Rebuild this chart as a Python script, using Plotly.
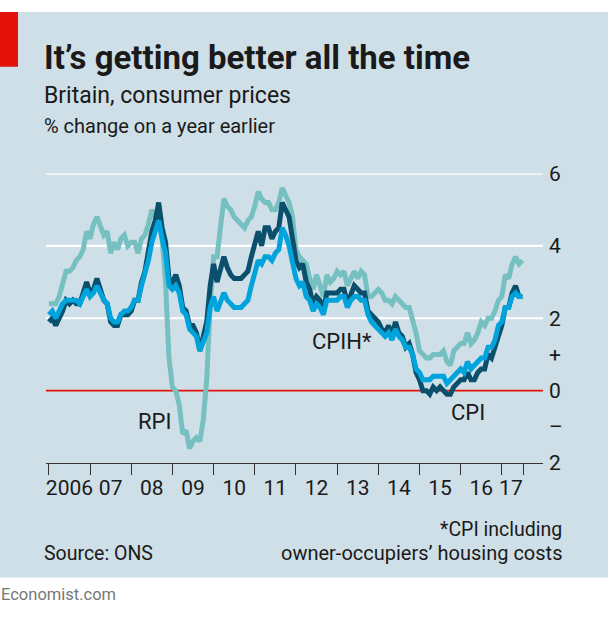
import plotly.graph_objects as go

# ---- data (monthly, Jan 2006 - Jul 2017), % change on a year earlier ----
start_year = 2006
cpi = [1.9,2.0,1.8,2.0,2.2,2.5,2.4,2.5,2.4,2.4,2.7,3.0,
       2.7,2.8,3.1,2.8,2.5,2.4,1.9,1.8,1.8,2.1,2.1,2.1,
       2.2,2.5,2.5,3.0,3.3,3.8,4.4,4.7,5.2,4.5,4.1,3.1,
       3.0,3.2,2.9,2.3,2.2,1.8,1.8,1.6,1.1,1.5,1.9,2.9,
       3.5,3.0,3.4,3.7,3.4,3.2,3.1,3.1,3.1,3.2,3.3,3.7,
       4.0,4.4,4.0,4.5,4.5,4.2,4.4,4.5,5.2,5.0,4.8,4.2,
       3.6,3.4,3.5,3.0,2.8,2.4,2.6,2.5,2.2,2.7,2.7,2.7,
       2.7,2.8,2.8,2.4,2.7,2.9,2.8,2.7,2.7,2.2,2.1,2.0,
       1.9,1.7,1.6,1.8,1.5,1.9,1.6,1.5,1.2,1.3,1.0,0.5,
       0.3,0.0,0.0,-0.1,0.1,0.0,0.1,0.0,-0.1,-0.1,0.1,0.2,
       0.3,0.3,0.5,0.3,0.3,0.5,0.6,0.6,1.0,0.9,1.2,1.6,
       1.8,2.3,2.3,2.7,2.9,2.6,2.6]
rpi = [2.4,2.4,2.4,2.6,3.0,3.3,3.3,3.4,3.6,3.7,3.9,4.4,
       4.2,4.6,4.8,4.5,4.3,4.4,3.8,4.1,3.9,4.2,4.3,4.0,
       4.1,4.1,3.8,4.2,4.3,4.6,5.0,4.8,5.0,4.2,3.0,0.9,
       0.1,0.0,-0.4,-1.2,-1.1,-1.6,-1.4,-1.3,-1.4,-0.8,0.3,2.4,
       3.7,3.7,4.4,5.3,5.1,5.0,4.8,4.7,4.6,4.5,4.7,4.8,
       5.1,5.5,5.3,5.2,5.2,5.0,5.0,5.2,5.6,5.4,5.2,4.8,
       3.9,3.7,3.6,3.5,3.1,2.8,3.2,2.9,2.6,3.2,3.0,3.1,
       3.3,3.2,3.3,2.9,3.1,3.3,3.1,3.3,3.2,2.6,2.6,2.7,
       2.8,2.7,2.5,2.5,2.4,2.6,2.5,2.4,2.3,2.3,2.0,1.6,
       1.1,1.0,0.9,0.9,1.0,1.0,1.0,1.1,0.8,0.7,1.1,1.2,
       1.3,1.3,1.6,1.3,1.4,1.6,1.9,1.8,2.0,2.0,2.2,2.5,
       2.6,3.2,3.1,3.5,3.7,3.5,3.6]
cpih = [2.1,2.2,2.0,2.2,2.4,2.5,2.5,2.5,2.5,2.4,2.6,2.8,
        2.6,2.7,2.9,2.7,2.5,2.4,2.0,1.9,1.9,2.1,2.2,2.2,
        2.3,2.5,2.5,2.9,3.2,3.6,4.1,4.4,4.7,4.2,3.8,2.9,
        2.8,2.9,2.7,2.2,2.1,1.7,1.6,1.5,1.1,1.4,1.6,2.3,
        2.6,2.2,2.5,2.7,2.5,2.4,2.3,2.3,2.3,2.4,2.5,2.9,
        3.3,3.6,3.5,3.7,3.7,3.6,3.8,3.9,4.5,4.3,4.0,3.6,
        3.1,2.9,3.0,2.6,2.5,2.2,2.4,2.3,2.1,2.5,2.5,2.5,
        2.5,2.6,2.6,2.3,2.5,2.6,2.6,2.5,2.5,2.1,1.9,1.8,
        1.7,1.6,1.5,1.6,1.4,1.7,1.5,1.4,1.2,1.2,1.0,0.6,
        0.5,0.3,0.3,0.3,0.4,0.4,0.4,0.4,0.2,0.3,0.4,0.5,
        0.6,0.5,0.8,0.6,0.7,0.8,0.9,0.9,1.2,1.2,1.4,1.8,
        1.9,2.3,2.3,2.6,2.7,2.6,2.6]

year_label_pos = [2006.5,2007.5,2008.5,2009.5,2010.5,2011.5,2012.5,2013.5,
                  2014.5,2015.5,2016.5,2017.22]
year_labels = ["2006","07","08","09","10","11","12","13","14","15","16","17"]
year_ticks = [2006,2007,2008,2009,2010,2011,2012,2013,2014,2015,2016,2017,2017.53]
y_tickvals = [6,4,2,1,0,-1,-2]
y_ticktext = ["6","4","2","+","0","\u2013","2"]
grid_vals = [6,4,2]

months = [start_year + i/12 for i in range(len(cpi))]

W, H = 608, 625
def px(x): return x / W
def py(y): return 1 - y / H

FONT = "Roboto"
TXT = "#1a1a1a"
BG = "#cfdfe7"

fig = go.Figure()
fig.add_trace(go.Scatter(x=months, y=rpi, mode="lines", name="RPI",
                         line=dict(color="#76c0c1", width=5), hoverinfo="skip"))
fig.add_trace(go.Scatter(x=months, y=cpi, mode="lines", name="CPI",
                         line=dict(color="#0a4f6b", width=5), hoverinfo="skip"))
fig.add_trace(go.Scatter(x=months, y=cpih, mode="lines", name="CPIH*",
                         line=dict(color="#00a3dc", width=5), hoverinfo="skip"))

x0d, x1d = px(46), px(543)
shapes = [dict(type="rect", xref="paper", yref="paper", x0=0, x1=1,
               y0=py(588), y1=1, fillcolor=BG, line=dict(width=0), layer="below"),
          dict(type="rect", xref="paper", yref="paper", x0=0, x1=px(18),
               y0=py(57), y1=1, fillcolor="#e3120b", line=dict(width=0), layer="below")]
for g in grid_vals:
    shapes.append(dict(type="line", xref="paper", yref="y", x0=x0d, x1=x1d,
                       y0=g, y1=g, line=dict(color="white", width=2.2), layer="below"))
shapes.append(dict(type="line", xref="paper", yref="y", x0=x0d, x1=x1d,
                   y0=0, y1=0, line=dict(color="#e3120b", width=1.6), layer="below"))

ann = []
def text(x, y, s, size, xanchor="left", bold=False, color=TXT):
    ann.append(dict(xref="paper", yref="paper", x=px(x), y=py(y), text=s,
                    showarrow=False, xanchor=xanchor, yanchor="middle",
                    font=dict(family=FONT, size=size, color=color,
                              weight=700 if bold else 400)))
text(42, 47, "It\u2019s getting better all the time", 33, bold=True)
text(42, 87, "Britain, consumer prices", 23)
text(42, 119, "% change on a year earlier", 20)
text(42, 563, "Source: ONS", 19.5)
text(564, 538, "*CPI including", 19.5, xanchor="right")
text(564, 563, "owner-occupiers\u2019 housing costs", 20, xanchor="right")
text(-1, 606, "Economist.com", 16.5, color="#777777")

for lbl, xv, yv in [("RPI", 2008.57, -0.85), ("CPIH*", 2013.11, 1.36), ("CPI", 2016.17, -0.61)]:
    ann.append(dict(xref="x", yref="y", x=xv, y=yv, text=lbl, showarrow=False,
                    xanchor="center", yanchor="middle",
                    font=dict(family=FONT, size=22, color=TXT)))

fig.update_layout(
    width=W, height=H, margin=dict(l=0, r=0, t=0, b=0),
    paper_bgcolor="white", plot_bgcolor="rgba(0,0,0,0)",
    showlegend=False, shapes=shapes, annotations=ann,
    xaxis=dict(domain=[x0d, x1d], range=[2005.93, 2018.0],
               tickmode="array", tickvals=year_label_pos, ticktext=year_labels,
               ticks="outside", ticklen=6, tickcolor="rgba(0,0,0,0)",
               tickfont=dict(family=FONT, size=21, color=TXT),
               showgrid=False, zeroline=False,
               showline=True, linecolor="#333333", linewidth=1,
               minor=dict(tickmode="array", tickvals=year_ticks, ticks="outside",
                          ticklen=11, tickcolor="#333333", tickwidth=1, showgrid=False),
               fixedrange=True),
    yaxis=dict(domain=[py(469), py(168)], range=[-2, 6], side="right",
               tickmode="array", tickvals=y_tickvals, ticktext=y_ticktext,
               ticks="", showgrid=False, zeroline=False, showline=False,
               tickfont=dict(family=FONT, size=21, color=TXT),
               ticklabelstandoff=5, fixedrange=True),
)
fig.write_html("out.html", config={"displayModeBar": False},
               post_script="document.body.style.margin='0';document.body.style.padding='0';")
